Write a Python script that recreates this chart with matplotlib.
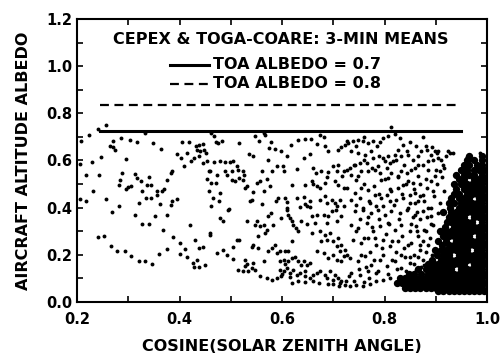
import os
import numpy as np
import matplotlib
matplotlib.use("Agg")
import matplotlib.pyplot as plt
from matplotlib import font_manager as fm
from matplotlib.ticker import MultipleLocator, FormatStrFormatter

# heavy sans face shipped with matplotlib itself
BOLD_FILE = os.path.join(matplotlib.get_data_path(), 'fonts', 'ttf', 'DejaVuSans-Bold.ttf')


def fp(size):
    return fm.FontProperties(fname=BOLD_FILE, size=size)


# TOA albedo reference lines (aircraft albedo level over cosine range)
line_x = [0.245, 0.95]
albedo_toa07 = 0.725
albedo_toa08 = 0.835

# scattered 3-minute means, low sun / sparse part
left_x = [0.256, 0.241, 0.223, 0.207, 0.332, 0.270, 0.286, 0.303, 0.318, 0.348, 0.363, 0.264, 0.271, 0.274,
          0.295, 0.247, 0.230, 0.206, 0.217, 0.243, 0.288, 0.313, 0.318, 0.324, 0.283, 0.281, 0.300, 0.296,
          0.306, 0.340, 0.337, 0.345, 0.327, 0.357, 0.357, 0.366, 0.370, 0.334, 0.345, 0.362, 0.383, 0.386,
          0.396, 0.376, 0.383, 0.386, 0.256, 0.281, 0.321, 0.232, 0.217, 0.206, 0.405, 0.419, 0.432, 0.438,
          0.445, 0.435, 0.440, 0.448, 0.451, 0.396, 0.402, 0.415, 0.422, 0.428, 0.438, 0.409, 0.445, 0.454,
          0.458, 0.453, 0.461, 0.458, 0.461, 0.461,
          0.269, 0.313, 0.352, 0.376, 0.327, 0.340, 0.368, 0.240, 0.253, 0.266, 0.279, 0.293, 0.306, 0.321,
          0.333, 0.347, 0.360, 0.375, 0.387, 0.400, 0.411, 0.401, 0.414, 0.420, 0.430, 0.439, 0.446, 0.426,
          0.428, 0.435, 0.439, 0.449, 0.459]
left_y = [0.751, 0.734, 0.709, 0.683, 0.715, 0.683, 0.695, 0.686, 0.678, 0.674, 0.648, 0.663, 0.657, 0.644,
          0.606, 0.613, 0.592, 0.585, 0.537, 0.537, 0.547, 0.542, 0.525, 0.511, 0.518, 0.497, 0.486, 0.479,
          0.493, 0.530, 0.497, 0.497, 0.469, 0.469, 0.455, 0.472, 0.480, 0.441, 0.441, 0.415, 0.410, 0.427,
          0.436, 0.518, 0.547, 0.556, 0.436, 0.408, 0.419, 0.472, 0.427, 0.438, 0.678, 0.678, 0.660, 0.667,
          0.669, 0.645, 0.639, 0.645, 0.631, 0.627, 0.610, 0.631, 0.596, 0.610, 0.617, 0.575, 0.589, 0.596,
          0.556, 0.522, 0.504, 0.469, 0.405, 0.716,
          0.381, 0.370, 0.363, 0.367, 0.332, 0.332, 0.306, 0.275, 0.278, 0.236, 0.215, 0.217, 0.194, 0.175,
          0.175, 0.162, 0.203, 0.226, 0.275, 0.250, 0.225, 0.203, 0.189, 0.325, 0.261, 0.229, 0.233, 0.165,
          0.147, 0.177, 0.148, 0.156, 0.285]

# middle range of cosine
mid_x = [0.564, 0.567, 0.467, 0.471, 0.482, 0.476, 0.516, 0.547, 0.556, 0.579, 0.575, 0.586, 0.598, 0.618,
         0.632, 0.645, 0.657, 0.674, 0.681, 0.668, 0.684, 0.690, 0.710, 0.716, 0.726, 0.723, 0.536, 0.544,
         0.609, 0.573, 0.642, 0.655, 0.467, 0.479, 0.489, 0.499, 0.504, 0.513, 0.515, 0.460, 0.474, 0.489,
         0.492, 0.502, 0.523, 0.526, 0.560, 0.580, 0.590, 0.601, 0.604, 0.629, 0.661, 0.666, 0.677, 0.690,
         0.687, 0.700, 0.710, 0.720, 0.727, 0.707, 0.717, 0.502, 0.508, 0.517, 0.524, 0.528, 0.531, 0.472,
         0.551, 0.557, 0.570, 0.577, 0.544, 0.564, 0.619, 0.645, 0.658, 0.660, 0.668, 0.674, 0.684, 0.703,
         0.710, 0.720, 0.726, 0.479, 0.466, 0.478, 0.497, 0.538, 0.541, 0.560, 0.588, 0.593, 0.606, 0.609,
         0.609, 0.629, 0.635, 0.642, 0.645, 0.655, 0.655, 0.648, 0.674, 0.684, 0.687, 0.697, 0.703, 0.713,
         0.707, 0.720,
         0.485, 0.479, 0.495, 0.460, 0.531, 0.551, 0.557, 0.564, 0.547, 0.573, 0.579, 0.583, 0.570, 0.567,
         0.554, 0.599, 0.609, 0.612, 0.616, 0.619, 0.622, 0.627, 0.632, 0.638, 0.648, 0.664, 0.668, 0.658,
         0.681, 0.690, 0.697, 0.705, 0.716, 0.707, 0.687, 0.658, 0.674, 0.684, 0.694, 0.687, 0.677, 0.700,
         0.710, 0.716, 0.707, 0.723, 0.726, 0.713, 0.473, 0.484, 0.492, 0.505, 0.504, 0.512, 0.517, 0.515,
         0.523, 0.528, 0.534, 0.541, 0.531, 0.528, 0.544, 0.547, 0.557, 0.564, 0.570, 0.580, 0.590, 0.599,
         0.544, 0.541, 0.554, 0.573, 0.580, 0.586, 0.590, 0.596, 0.606, 0.612, 0.619, 0.596, 0.603, 0.606,
         0.612, 0.619, 0.625, 0.632, 0.638, 0.642, 0.648, 0.655, 0.596, 0.603, 0.609, 0.616, 0.622, 0.629,
         0.635, 0.645, 0.645, 0.655, 0.661, 0.668, 0.674, 0.684, 0.694, 0.703, 0.710, 0.716, 0.723, 0.687,
         0.668, 0.681, 0.690, 0.700, 0.707, 0.716, 0.720]
mid_y = [0.716, 0.706, 0.702, 0.678, 0.681, 0.674, 0.674, 0.702, 0.683, 0.678, 0.655, 0.650, 0.641, 0.667,
         0.685, 0.692, 0.692, 0.706, 0.698, 0.669, 0.660, 0.639, 0.645, 0.656, 0.681, 0.667, 0.627, 0.617,
         0.617, 0.603, 0.610, 0.627, 0.592, 0.596, 0.592, 0.592, 0.596, 0.575, 0.561, 0.556, 0.539, 0.554,
         0.537, 0.554, 0.554, 0.537, 0.554, 0.556, 0.575, 0.575, 0.556, 0.564, 0.568, 0.547, 0.554, 0.551,
         0.528, 0.575, 0.582, 0.554, 0.561, 0.554, 0.533, 0.518, 0.511, 0.525, 0.518, 0.483, 0.490, 0.504,
         0.504, 0.511, 0.521, 0.490, 0.466, 0.469, 0.497, 0.494, 0.511, 0.500, 0.490, 0.483, 0.504, 0.511,
         0.497, 0.483, 0.483, 0.462, 0.441, 0.427, 0.395, 0.429, 0.433, 0.415, 0.429, 0.441, 0.441, 0.424,
         0.398, 0.441, 0.401, 0.444, 0.415, 0.427, 0.401, 0.405, 0.434, 0.448, 0.419, 0.434, 0.419, 0.434,
         0.405, 0.405,
         0.342, 0.356, 0.391, 0.292, 0.342, 0.342, 0.321, 0.328, 0.328, 0.363, 0.377, 0.328, 0.306, 0.292,
         0.278, 0.356, 0.391, 0.370, 0.356, 0.342, 0.328, 0.314, 0.300, 0.342, 0.331, 0.335, 0.370, 0.363,
         0.370, 0.363, 0.384, 0.391, 0.363, 0.342, 0.335, 0.292, 0.300, 0.285, 0.292, 0.264, 0.257, 0.257,
         0.271, 0.243, 0.236, 0.222, 0.200, 0.215, 0.208, 0.222, 0.200, 0.183, 0.232, 0.264, 0.264, 0.137,
         0.130, 0.151, 0.130, 0.144, 0.161, 0.179, 0.165, 0.137, 0.109, 0.172, 0.102, 0.094, 0.102, 0.109,
         0.243, 0.232, 0.229, 0.217, 0.229, 0.243, 0.208, 0.215, 0.215, 0.217, 0.257, 0.172, 0.179, 0.161,
         0.175, 0.186, 0.189, 0.172, 0.158, 0.172, 0.158, 0.165, 0.137, 0.130, 0.144, 0.123, 0.137, 0.116,
         0.123, 0.130, 0.109, 0.102, 0.116, 0.123, 0.130, 0.116, 0.130, 0.116, 0.102, 0.088, 0.073, 0.102,
         0.215, 0.208, 0.186, 0.200, 0.179, 0.172, 0.194]

# high sun, approaching the dense cluster
right_x = [0.813, 0.729, 0.739, 0.749, 0.758, 0.768, 0.778, 0.791, 0.797, 0.807, 0.820, 0.830, 0.836, 0.826,
           0.843, 0.846, 0.833, 0.820, 0.807, 0.797, 0.800, 0.810, 0.817, 0.735, 0.748, 0.761, 0.774, 0.778,
           0.765, 0.752, 0.742, 0.732, 0.755, 0.768, 0.781, 0.791, 0.787, 0.735, 0.748, 0.745, 0.794, 0.807,
           0.813, 0.826, 0.833, 0.843, 0.852, 0.859, 0.865, 0.872, 0.882, 0.891, 0.898, 0.904, 0.885, 0.875,
           0.865, 0.856, 0.846, 0.836, 0.826, 0.813, 0.804, 0.794, 0.781, 0.768, 0.755, 0.742, 0.735, 0.745,
           0.758, 0.771, 0.784, 0.797, 0.810, 0.823, 0.836, 0.849, 0.859, 0.865, 0.875, 0.882, 0.891, 0.898,
           0.908, 0.917, 0.924, 0.934,
           0.742, 0.758, 0.774, 0.787, 0.800, 0.813, 0.830, 0.843, 0.859, 0.875, 0.891, 0.904, 0.735, 0.748,
           0.765, 0.778, 0.791, 0.807, 0.820, 0.833, 0.849, 0.862, 0.878, 0.895, 0.908, 0.739, 0.755, 0.768,
           0.784, 0.797, 0.810, 0.826, 0.839, 0.852, 0.869, 0.885, 0.898, 0.911, 0.732, 0.748, 0.761, 0.774,
           0.791, 0.804, 0.820, 0.833, 0.849, 0.862, 0.878, 0.732, 0.745, 0.758, 0.771, 0.784, 0.797, 0.810,
           0.735, 0.752, 0.768, 0.784, 0.700, 0.712,
           0.876, 0.892, 0.902, 0.928, 0.960, 0.967, 0.986, 0.880, 0.870, 0.885, 0.870, 0.895, 0.880, 0.900,
           0.910, 0.860, 0.865, 0.875, 0.890, 0.855, 0.845]
right_y = [0.740, 0.674, 0.683, 0.688, 0.681, 0.674, 0.681, 0.678, 0.695, 0.702, 0.712, 0.695, 0.667, 0.645,
           0.639, 0.624, 0.617, 0.624, 0.617, 0.610, 0.596, 0.589, 0.599, 0.639, 0.631, 0.624, 0.639, 0.610,
           0.589, 0.589, 0.582, 0.568, 0.554, 0.554, 0.561, 0.547, 0.575, 0.539, 0.533, 0.518, 0.518, 0.525,
           0.547, 0.533, 0.554, 0.547, 0.561, 0.568, 0.582, 0.639, 0.645, 0.624, 0.639, 0.610, 0.596, 0.582,
           0.533, 0.504, 0.511, 0.497, 0.483, 0.469, 0.455, 0.441, 0.455, 0.476, 0.483, 0.462, 0.434, 0.412,
           0.398, 0.419, 0.405, 0.405, 0.427, 0.434, 0.441, 0.455, 0.462, 0.427, 0.455, 0.483, 0.511, 0.533,
           0.554, 0.568, 0.639, 0.631,
           0.384, 0.391, 0.377, 0.391, 0.370, 0.384, 0.377, 0.391, 0.370, 0.384, 0.363, 0.377, 0.328, 0.314,
           0.335, 0.300, 0.321, 0.335, 0.306, 0.328, 0.300, 0.321, 0.306, 0.328, 0.292, 0.264, 0.250, 0.271,
           0.243, 0.264, 0.236, 0.257, 0.229, 0.250, 0.222, 0.243, 0.215, 0.236, 0.186, 0.172, 0.194, 0.158,
           0.179, 0.151, 0.172, 0.144, 0.165, 0.137, 0.158, 0.066, 0.071, 0.066, 0.076, 0.088, 0.094, 0.102,
           0.123, 0.116, 0.130, 0.123, 0.075, 0.068,
           0.700, 0.658, 0.630, 0.630, 0.616, 0.602, 0.630, 0.300, 0.350, 0.400, 0.450, 0.470, 0.520, 0.560,
           0.600, 0.420, 0.280, 0.260, 0.330, 0.360, 0.400]

# extra means filling the 0.74-0.92 band and the low-albedo floor
fill_x = [0.745, 0.752, 0.760, 0.768, 0.775, 0.782, 0.790, 0.795, 0.802, 0.808, 0.815, 0.822, 0.828, 0.835,
          0.840, 0.846, 0.852, 0.858, 0.864, 0.870, 0.876, 0.882, 0.888, 0.893,
          0.755, 0.763, 0.771, 0.779, 0.788, 0.797, 0.806, 0.815, 0.824, 0.832, 0.842, 0.850, 0.857, 0.866,
          0.872, 0.880, 0.887,
          0.752, 0.760, 0.770, 0.780, 0.790, 0.800, 0.810, 0.818, 0.826, 0.834, 0.842, 0.850, 0.857, 0.863,
          0.870, 0.878, 0.884, 0.890, 0.896, 0.902, 0.908, 0.912, 0.916,
          0.740, 0.760, 0.775, 0.790, 0.805, 0.822, 0.838, 0.856, 0.866, 0.880, 0.895, 0.905, 0.915, 0.920,
          0.745, 0.760, 0.785, 0.850, 0.862,
          0.620, 0.632, 0.645, 0.660, 0.672, 0.690, 0.600, 0.615, 0.700, 0.713, 0.725, 0.740, 0.760, 0.730,
          0.750, 0.770]
fill_y = [0.300, 0.350, 0.270, 0.360, 0.320, 0.270, 0.350, 0.230, 0.290, 0.330, 0.260, 0.210, 0.350, 0.280,
          0.190, 0.240, 0.330, 0.200, 0.300, 0.240, 0.180, 0.360, 0.270, 0.200,
          0.200, 0.150, 0.210, 0.180, 0.130, 0.200, 0.120, 0.180, 0.140, 0.200, 0.130, 0.190, 0.160, 0.190,
          0.150, 0.210, 0.170,
          0.440, 0.500, 0.430, 0.490, 0.460, 0.520, 0.480, 0.410, 0.530, 0.460, 0.500, 0.420, 0.480, 0.380,
          0.500, 0.430, 0.560, 0.400, 0.450, 0.500, 0.420, 0.530, 0.470,
          0.580, 0.600, 0.570, 0.620, 0.570, 0.600, 0.580, 0.600, 0.620, 0.660, 0.600, 0.640, 0.580, 0.620,
          0.660, 0.700, 0.660, 0.680, 0.660,
          0.080, 0.090, 0.085, 0.090, 0.080, 0.075, 0.120, 0.105, 0.095, 0.080, 0.090, 0.090, 0.085, 0.110,
          0.140, 0.100]

# solid cluster near overhead sun: one row of cosines per albedo level
core_y = [0.045, 0.06, 0.08, 0.10, 0.12, 0.14, 0.16, 0.18, 0.20, 0.22, 0.24, 0.26, 0.28, 0.30, 0.32,
          0.34, 0.36, 0.38, 0.40, 0.42, 0.44, 0.46, 0.48, 0.50, 0.52, 0.54, 0.56, 0.58, 0.60, 0.62]
core_x = [
    [0.905, 0.915, 0.925, 0.935, 0.945, 0.955, 0.965, 0.975, 0.985, 0.995],
    [0.84, 0.85, 0.86, 0.87, 0.88, 0.89, 0.90, 0.91, 0.92, 0.93, 0.94, 0.95, 0.96, 0.97, 0.98, 0.99],
    [0.825, 0.835, 0.845, 0.855, 0.865, 0.875, 0.885, 0.895, 0.905, 0.915, 0.925, 0.935, 0.945, 0.955,
     0.965, 0.975, 0.985, 0.995],
    [0.83, 0.84, 0.85, 0.86, 0.87, 0.88, 0.89, 0.90, 0.91, 0.92, 0.93, 0.94, 0.95, 0.96, 0.97, 0.98, 0.99],
    [0.848, 0.858, 0.872, 0.885, 0.895, 0.905, 0.915, 0.925, 0.935, 0.945, 0.955, 0.965, 0.975,
     0.985, 0.995],
    [0.866, 0.88, 0.89, 0.90, 0.91, 0.92, 0.93, 0.95, 0.96, 0.97, 0.98, 0.99],
    [0.885, 0.897, 0.905, 0.915, 0.925, 0.935, 0.945, 0.955, 0.975, 0.985, 0.995],
    [0.893, 0.91, 0.92, 0.93, 0.94, 0.95, 0.96, 0.97, 0.98, 0.99],
    [0.903, 0.915, 0.925, 0.945, 0.955, 0.965, 0.975, 0.985, 0.995],
    [0.898, 0.91, 0.92, 0.93, 0.94, 0.95, 0.96, 0.98, 0.99],
    [0.912, 0.925, 0.935, 0.945, 0.955, 0.965, 0.975, 0.985, 0.995],
    [0.905, 0.92, 0.94, 0.95, 0.96, 0.97, 0.98, 0.99],
    [0.915, 0.925, 0.935, 0.945, 0.955, 0.965, 0.985, 0.995],
    [0.908, 0.92, 0.93, 0.94, 0.95, 0.96, 0.97, 0.98, 0.99],
    [0.918, 0.935, 0.945, 0.955, 0.965, 0.975, 0.985, 0.995],
    [0.922, 0.93, 0.94, 0.95, 0.96, 0.97, 0.99],
    [0.925, 0.935, 0.945, 0.955, 0.975, 0.985, 0.995],
    [0.915, 0.93, 0.94, 0.95, 0.96, 0.97, 0.98, 0.99],
    [0.928, 0.945, 0.955, 0.965, 0.975, 0.985, 0.995],
    [0.925, 0.935, 0.95, 0.96, 0.97, 0.98, 0.99],
    [0.93, 0.945, 0.955, 0.965, 0.985, 0.995],
    [0.935, 0.945, 0.96, 0.97, 0.98, 0.99],
    [0.94, 0.955, 0.965, 0.975, 0.985, 0.995],
    [0.935, 0.95, 0.96, 0.97, 0.98, 0.99],
    [0.945, 0.955, 0.975, 0.985, 0.995],
    [0.94, 0.955, 0.965, 0.975, 0.99],
    [0.95, 0.96, 0.975, 0.985, 0.995],
    [0.955, 0.965, 0.98, 0.99],
    [0.96, 0.975, 0.99],
    [0.965, 0.99],
]

fig = plt.figure(figsize=(5.0, 3.56), dpi=100)
ax = fig.add_axes([0.154, 0.1517, 0.82, 0.795])

pts_x = left_x + mid_x + right_x + fill_x
pts_y = left_y + mid_y + right_y + fill_y
ax.plot(pts_x, pts_y, 'o', color='black', markersize=2.8, markeredgewidth=0)

cx = []
cy = []
for yv, row in zip(core_y, core_x):
    for xv in row:
        cx.append(xv)
        cy.append(yv)
ax.plot(cx, cy, 'o', color='black', markersize=5.3, markeredgewidth=0)

ax.plot(line_x, [albedo_toa07, albedo_toa07], '-', color='black', lw=2.2)
ax.plot(line_x, [albedo_toa08, albedo_toa08], '--', color='black', lw=1.6, dashes=(4, 2.5))

# key, drawn in axes fractions
tr = ax.transAxes
ax.text(0.498, 0.929, 'CEPEX & TOGA-COARE: 3-MIN MEANS', transform=tr,
        ha='center', va='center', fontproperties=fp(11.5))
ax.plot([0.227, 0.322], [0.838, 0.838], '-', color='black', lw=2.2, transform=tr)
ax.plot([0.227, 0.322], [0.772, 0.772], '--', color='black', lw=1.6, dashes=(4, 2.5), transform=tr)
ax.text(0.332, 0.838, 'TOA ALBEDO = 0.7', transform=tr, ha='left', va='center', fontproperties=fp(11.5))
ax.text(0.332, 0.772, 'TOA ALBEDO = 0.8', transform=tr, ha='left', va='center', fontproperties=fp(11.5))

ax.set_xlim(0.2, 1.0)
ax.set_ylim(0.0, 1.2)
ax.xaxis.set_major_locator(MultipleLocator(0.2))
ax.xaxis.set_minor_locator(MultipleLocator(0.1))
ax.yaxis.set_major_locator(MultipleLocator(0.2))
ax.yaxis.set_minor_locator(MultipleLocator(0.1))
ax.xaxis.set_major_formatter(FormatStrFormatter('%.1f'))
ax.yaxis.set_major_formatter(FormatStrFormatter('%.1f'))
ax.tick_params(which='both', direction='in', top=True, right=True, length=4, width=1.2)
ax.tick_params(axis='x', pad=7)
ax.tick_params(axis='y', pad=3.5)
for lab in ax.get_xticklabels() + ax.get_yticklabels():
    lab.set_fontproperties(fp(10.5))
for sp in ax.spines.values():
    sp.set_linewidth(1.5)

ax.set_xlabel('COSINE(SOLAR ZENITH ANGLE)', fontproperties=fp(11.5), labelpad=9)
ax.set_ylabel('AIRCRAFT ALTITUDE ALBEDO', fontproperties=fp(11.5), labelpad=11)

fig.savefig('out.png', dpi=100)
